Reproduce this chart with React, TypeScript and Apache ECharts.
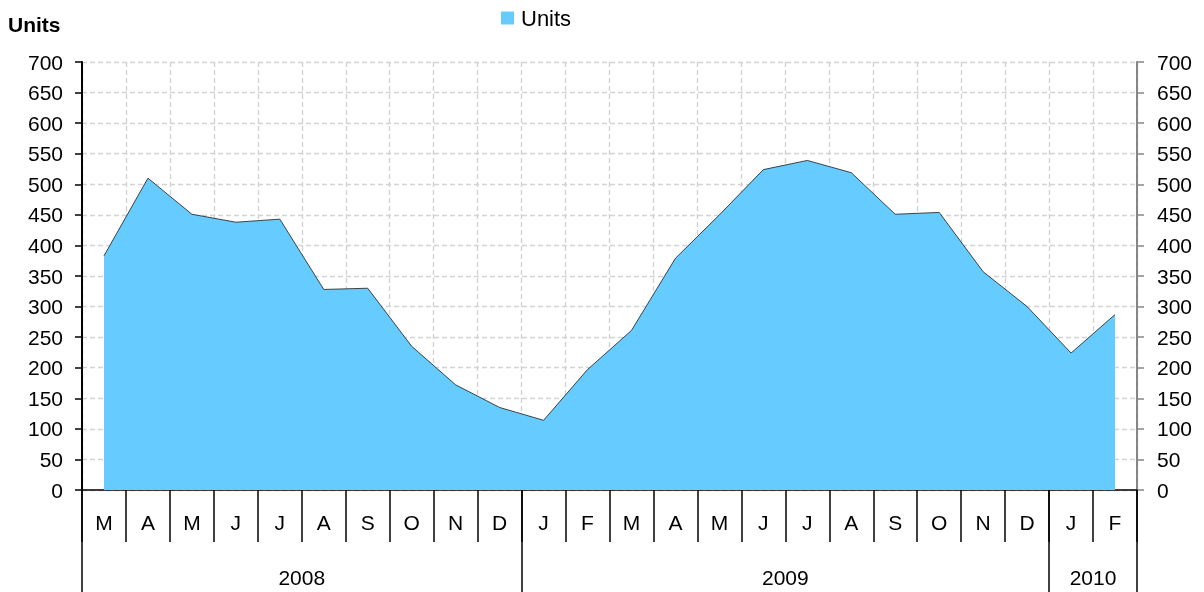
import React, { useEffect, useRef } from "react";
import * as echarts from "echarts";

const MONTHS = ["M", "A", "M", "J", "J", "A", "S", "O", "N", "D", "J", "F", "M", "A", "M", "J", "J", "A", "S", "O", "N", "D", "J", "F"];
const UNITS = [383, 510, 451, 438, 443, 328, 330, 235, 172, 135, 114, 197, 261, 379, 450, 524, 539, 519, 451, 454, 357, 300, 224, 287];
const YEARS = ["2008", "2009", "2010"];
const YEAR_MONTH_COUNTS = [10, 12, 2];
const Y_MIN = 0;
const Y_MAX = 700;
const Y_STEP = 50;

const FONT = "'Liberation Sans', Arial, sans-serif";

export default function App() {
  const ref = useRef<HTMLDivElement>(null);

  useEffect(() => {
    if (!ref.current) return;
    const chart = echarts.init(ref.current, null, { renderer: "svg" });

    const bounds: number[] = [0];
    const centers: number[] = [];
    YEAR_MONTH_COUNTS.forEach((c) => {
      const start = bounds[bounds.length - 1];
      centers.push(start + c / 2);
      bounds.push(start + c);
    });

    const gridLine = { show: true, lineStyle: { color: "#d3d3d3", type: [5, 3] as any, width: 1.4 } };

    chart.setOption({
      animation: false,
      title: {
        text: "Units",
        left: 3,
        top: 9,
        textStyle: { fontFamily: FONT, fontSize: 21, fontWeight: "bold", color: "#000" },
      },
      legend: {
        left: 496,
        top: 2,
        itemWidth: 13,
        itemHeight: 13,
        itemGap: 10,
        icon: "rect",
        textStyle: { fontFamily: FONT, fontSize: 22, color: "#000", padding: [0, 0, 0, 2] },
        data: ["Units"],
      },
      grid: { left: 82, right: 67, top: 62, bottom: 102, containLabel: false },
      xAxis: [
        {
          type: "category",
          data: MONTHS,
          boundaryGap: true,
          position: "bottom",
          axisLine: { show: true, lineStyle: { color: "#000", width: 1.5 } },
          axisTick: { show: true, interval: 0, length: 52, lineStyle: { color: "#000", width: 1.5 } },
          axisLabel: { interval: 0, margin: 22, fontFamily: FONT, fontSize: 21, color: "#000" },
          splitLine: { ...gridLine, interval: 0 },
        },
        {
          type: "value",
          min: 0,
          max: bounds[bounds.length - 1],
          position: "bottom",
          axisLine: { show: false },
          splitLine: { show: false },
          axisTick: { show: true, customValues: bounds, length: 104, lineStyle: { color: "#000", width: 1.5 } },
          axisLabel: {
            show: true,
            customValues: centers,
            margin: 77,
            fontFamily: FONT,
            fontSize: 21,
            color: "#000",
            formatter: (v: number) => {
              const i = centers.findIndex((c) => Math.abs(c - v) < 1e-6);
              return i >= 0 ? YEARS[i] : "";
            },
          },
        },
      ],
      yAxis: [
        {
          type: "value",
          min: Y_MIN,
          max: Y_MAX,
          interval: Y_STEP,
          position: "left",
          axisLine: { show: true, lineStyle: { color: "#000", width: 2 } },
          axisTick: { show: true, length: 7, lineStyle: { color: "#000", width: 1.5 } },
          axisLabel: { margin: 19, fontFamily: FONT, fontSize: 21, color: "#000" },
          splitLine: gridLine,
        },
        {
          type: "value",
          min: Y_MIN,
          max: Y_MAX,
          interval: Y_STEP,
          position: "right",
          axisLine: { show: true, lineStyle: { color: "#868686", width: 2 } },
          axisTick: { show: true, length: 7, lineStyle: { color: "#868686", width: 1.5 } },
          axisLabel: { margin: 20, fontFamily: FONT, fontSize: 21, color: "#000" },
          splitLine: { show: false },
        },
      ],
      series: [
        {
          name: "Units",
          type: "line",
          xAxisIndex: 0,
          yAxisIndex: 0,
          data: UNITS,
          symbol: "none",
          itemStyle: { color: "#66CCFF" },
          lineStyle: { color: "#1a1a1a", width: 0.8 },
          areaStyle: { color: "#66CCFF", opacity: 1 },
          z: 3,
        },
      ],
    });

    return () => chart.dispose();
  }, []);

  return <div ref={ref} style={{ position: "fixed", left: 0, top: 0, width: 1204, height: 592 }} />;
}
